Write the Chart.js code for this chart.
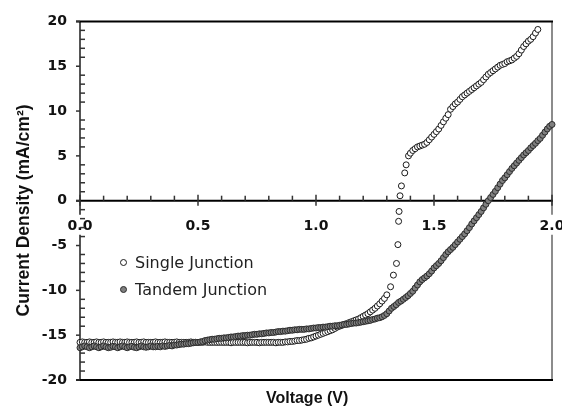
<!DOCTYPE html>
<html lang="en">
<head>
<meta charset="UTF-8">
<title>Current Density vs Voltage</title>
<script src="https://cdn.jsdelivr.net/npm/chart.js"></script>
<style>
  html, body { margin: 0; padding: 0; background: #fff; }
  #jv { display: block; }
</style>
</head>
<body>
<canvas id="jv" width="562" height="414"></canvas>
<script>
// series + axis values
const seriesNames = ['Single Junction', 'Tandem Junction'];
const xTickValues = [0, 0.5, 1.0, 1.5, 2.0];
const yTickValues = [-20, -15, -10, -5, 0, 5, 10, 15, 20];

const tandemV = [
  0.00, 0.01, 0.02, 0.03, 0.04, 0.05, 0.06, 0.07, 0.08, 0.09,
  0.10, 0.11, 0.12, 0.13, 0.14, 0.15, 0.16, 0.17, 0.18, 0.19,
  0.20, 0.21, 0.22, 0.23, 0.24, 0.25, 0.26, 0.27, 0.28, 0.29,
  0.30, 0.31, 0.32, 0.33, 0.34, 0.35, 0.36, 0.37, 0.38, 0.39,
  0.40, 0.41, 0.42, 0.43, 0.44, 0.45, 0.46, 0.47, 0.48, 0.49,
  0.50, 0.51, 0.52, 0.53, 0.54, 0.55, 0.56, 0.57, 0.58, 0.59,
  0.60, 0.61, 0.62, 0.63, 0.64, 0.65, 0.66, 0.67, 0.68, 0.69,
  0.70, 0.71, 0.72, 0.73, 0.74, 0.75, 0.76, 0.77, 0.78, 0.79,
  0.80, 0.81, 0.82, 0.83, 0.84, 0.85, 0.86, 0.87, 0.88, 0.89,
  0.90, 0.91, 0.92, 0.93, 0.94, 0.95, 0.96, 0.97, 0.98, 0.99,
  1.00, 1.01, 1.02, 1.03, 1.04, 1.05, 1.06, 1.07, 1.08, 1.09,
  1.10, 1.11, 1.12, 1.13, 1.14, 1.15, 1.16, 1.17, 1.18, 1.19,
  1.20, 1.21, 1.22, 1.23, 1.24, 1.25, 1.26, 1.27, 1.28, 1.29,
  1.30, 1.31, 1.32, 1.33, 1.34, 1.35, 1.36, 1.37, 1.38, 1.39,
  1.40, 1.41, 1.42, 1.43, 1.44, 1.45, 1.46, 1.47, 1.48, 1.49,
  1.50, 1.51, 1.52, 1.53, 1.54, 1.55, 1.56, 1.57, 1.58, 1.59,
  1.60, 1.61, 1.62, 1.63, 1.64, 1.65, 1.66, 1.67, 1.68, 1.69,
  1.70, 1.71, 1.72, 1.73, 1.74, 1.75, 1.76, 1.77, 1.78, 1.79,
  1.80, 1.81, 1.82, 1.83, 1.84, 1.85, 1.86, 1.87, 1.88, 1.89,
  1.90, 1.91, 1.92, 1.93, 1.94, 1.95, 1.96, 1.97, 1.98, 1.99,
  2.00
];
const tandemJ = [
  -16.4, -16.3, -16.2, -16.3, -16.4, -16.3, -16.2, -16.3, -16.4, -16.3,
  -16.2, -16.3, -16.4, -16.35, -16.25, -16.3, -16.4, -16.3, -16.2, -16.3,
  -16.4, -16.3, -16.25, -16.35, -16.4, -16.3, -16.2, -16.3, -16.35, -16.3,
  -16.2, -16.3, -16.3, -16.25, -16.3, -16.2, -16.25, -16.2, -16.15, -16.2,
  -16.1, -16.1, -16.05, -16.0, -16.0, -15.95, -15.95, -15.9, -15.85, -15.8,
  -15.8, -15.75, -15.7, -15.6, -15.55, -15.5, -15.45, -15.45, -15.4, -15.35,
  -15.35, -15.3, -15.3, -15.25, -15.2, -15.2, -15.15, -15.1, -15.1, -15.05,
  -15.05, -15.0, -15.0, -14.95, -14.9, -14.9, -14.85, -14.85, -14.8, -14.75,
  -14.75, -14.7, -14.7, -14.65, -14.6, -14.6, -14.55, -14.55, -14.5, -14.45,
  -14.45, -14.4, -14.4, -14.35, -14.35, -14.35, -14.3, -14.3, -14.25, -14.2,
  -14.2, -14.15, -14.15, -14.1, -14.1, -14.05, -14.0, -14.0, -13.95, -13.95,
  -13.9, -13.85, -13.8, -13.8, -13.75, -13.7, -13.65, -13.65, -13.6, -13.55,
  -13.5, -13.45, -13.4, -13.35, -13.25, -13.2, -13.1, -13.05, -12.95, -12.8,
  -12.6, -12.3, -12.0, -11.8, -11.6, -11.35, -11.2, -11.0, -10.8, -10.6,
  -10.35, -10.1, -9.75, -9.4, -9.05, -8.8, -8.6, -8.4, -8.15, -7.85,
  -7.5, -7.25, -7.0, -6.7, -6.35, -6.0, -5.7, -5.45, -5.2, -4.9,
  -4.6, -4.3, -4.0, -3.7, -3.35, -3.0, -2.6, -2.25, -1.9, -1.55,
  -1.2, -0.8, -0.4, 0.0, 0.35, 0.7, 1.05, 1.45, 1.85, 2.25,
  2.55, 2.9, 3.25, 3.6, 3.9, 4.2, 4.5, 4.8, 5.1, 5.35,
  5.6, 5.9, 6.15, 6.4, 6.7, 6.95, 7.3, 7.65, 8.0, 8.3,
  8.5
];

const singleV = [
  0.00, 0.01, 0.02, 0.03, 0.04, 0.05, 0.06, 0.07, 0.08, 0.09,
  0.10, 0.11, 0.12, 0.13, 0.14, 0.15, 0.16, 0.17, 0.18, 0.19,
  0.20, 0.21, 0.22, 0.23, 0.24, 0.25, 0.26, 0.27, 0.28, 0.29,
  0.30, 0.31, 0.32, 0.33, 0.34, 0.35, 0.36, 0.37, 0.38, 0.39,
  0.40, 0.41, 0.42, 0.43, 0.44, 0.45, 0.46, 0.47, 0.48, 0.49,
  0.50, 0.51, 0.52, 0.53, 0.54, 0.55, 0.56, 0.57, 0.58, 0.59,
  0.60, 0.61, 0.62, 0.63, 0.64, 0.65, 0.66, 0.67, 0.68, 0.69,
  0.70, 0.71, 0.72, 0.73, 0.74, 0.75, 0.76, 0.77, 0.78, 0.79,
  0.80, 0.81, 0.82, 0.83, 0.84, 0.85, 0.86, 0.87, 0.88, 0.89,
  0.90, 0.91, 0.92, 0.93, 0.94, 0.95, 0.96, 0.97, 0.98, 0.99,
  1.00, 1.01, 1.02, 1.03, 1.04, 1.05, 1.06, 1.07, 1.08, 1.09,
  1.10, 1.11, 1.12, 1.13, 1.14, 1.15, 1.16, 1.17, 1.18, 1.19,
  1.20, 1.21, 1.22, 1.23, 1.24, 1.25, 1.26, 1.27, 1.28, 1.29,
  1.30, 1.316, 1.328, 1.341, 1.347, 1.350, 1.352, 1.356, 1.362, 1.376,
  1.382, 1.392,
  1.40, 1.41, 1.42, 1.43, 1.44, 1.45, 1.46, 1.47, 1.48, 1.49,
  1.50, 1.51, 1.52, 1.53, 1.54, 1.55, 1.56, 1.57, 1.58, 1.59,
  1.60, 1.61, 1.62, 1.63, 1.64, 1.65, 1.66, 1.67, 1.68, 1.69,
  1.70, 1.71, 1.72, 1.73, 1.74, 1.75, 1.76, 1.77, 1.78, 1.79,
  1.80, 1.81, 1.82, 1.83, 1.84, 1.85, 1.86, 1.87, 1.88, 1.89,
  1.90, 1.91, 1.92, 1.93, 1.94
];
const singleJ = [
  -15.8, -15.75, -15.8, -15.8, -15.75, -15.8, -15.8, -15.75, -15.8, -15.8,
  -15.75, -15.8, -15.8, -15.8, -15.75, -15.8, -15.8, -15.75, -15.8, -15.8,
  -15.75, -15.8, -15.8, -15.8, -15.75, -15.8, -15.8, -15.75, -15.8, -15.8,
  -15.8, -15.8, -15.75, -15.8, -15.8, -15.8, -15.75, -15.8, -15.8, -15.8,
  -15.8, -15.75, -15.8, -15.8, -15.8, -15.8, -15.8, -15.75, -15.8, -15.8,
  -15.8, -15.8, -15.8, -15.75, -15.8, -15.8, -15.8, -15.8, -15.8, -15.8,
  -15.8, -15.8, -15.8, -15.8, -15.85, -15.8, -15.8, -15.8, -15.8, -15.8,
  -15.8, -15.85, -15.8, -15.8, -15.8, -15.8, -15.85, -15.8, -15.8, -15.8,
  -15.8, -15.8, -15.8, -15.85, -15.8, -15.8, -15.8, -15.75, -15.75, -15.7,
  -15.7, -15.65, -15.6, -15.6, -15.55, -15.5, -15.45, -15.35, -15.3, -15.2,
  -15.1, -15.0, -14.9, -14.8, -14.7, -14.6, -14.5, -14.4, -14.25, -14.1,
  -14.0, -13.9, -13.8, -13.7, -13.6, -13.5, -13.4, -13.3, -13.2, -13.05,
  -12.9, -12.75, -12.6, -12.4, -12.2, -12.0, -11.75, -11.5, -11.2, -10.9,
  -10.5, -9.6, -8.3, -7.0, -4.9, -2.3, -1.2, 0.55, 1.65, 3.1,
  4.0, 5.0,
  5.3, 5.6, 5.8, 6.0, 6.1, 6.2, 6.3, 6.5, 6.8, 7.1,
  7.4, 7.7, 8.0, 8.4, 8.8, 9.2, 9.6, 10.2, 10.5, 10.8,
  11.0, 11.3, 11.6, 11.8, 12.0, 12.2, 12.4, 12.6, 12.8, 13.0,
  13.2, 13.5, 13.8, 14.1, 14.3, 14.5, 14.7, 14.9, 15.1, 15.2,
  15.3, 15.5, 15.6, 15.7, 15.9, 16.1, 16.4, 16.8, 17.2, 17.5,
  17.8, 18.0, 18.3, 18.7, 19.1
];

const toPoints = (vs, js) => vs.map((v, i) => ({ x: v, y: js[i] }));

// box, axis line through J = 0, major and minor ticks
const framePlugin = {
  id: 'frame',
  beforeDatasetsDraw(chart) {
    const { ctx, chartArea: a, scales: { x, y } } = chart;
    const y0 = y.getPixelForValue(0);
    const line = (x1, y1, x2, y2) => {
      ctx.beginPath(); ctx.moveTo(x1, y1); ctx.lineTo(x2, y2); ctx.stroke();
    };
    // side lines break where the 0.0 / 2.0 labels sit
    const gapTop = y0 + 14, gapBottom = y0 + 34;
    ctx.save();
    ctx.lineWidth = 2;
    ctx.strokeStyle = '#8c8c8c';
    line(a.right, a.top, a.right, gapTop);
    line(a.right, gapBottom, a.right, a.bottom);
    ctx.strokeStyle = '#555';
    line(a.left, a.top, a.left, gapTop);
    line(a.left, gapBottom, a.left, a.bottom);
    ctx.strokeStyle = '#000';
    line(a.left - 4, a.top, a.right + 1, a.top);
    line(a.left - 4, a.bottom, a.right + 1, a.bottom);
    line(a.left - 4, y0, a.right + 1, y0);

    ctx.lineWidth = 1.5;
    ctx.strokeStyle = '#333';
    yTickValues.forEach(v => {
      const py = y.getPixelForValue(v);
      line(a.left - 4, py, a.left, py);
    });
    for (let v = -19; v < 20; v++) {
      if (v % 5 === 0) continue;
      const py = y.getPixelForValue(v);
      line(a.left, py, a.left + 5, py);
    }
    xTickValues.forEach(v => {
      const px = x.getPixelForValue(v);
      line(px, y0 - 6, px, y0 + 5);
    });
    for (let k = 1; k < 20; k++) {
      if (k % 5 === 0) continue;
      const px = x.getPixelForValue(k / 10);
      line(px, y0 - 5, px, y0);
    }
    ctx.restore();
  }
};

// legend sits inside the plot, lower left
const legendPlugin = {
  id: 'innerLegend',
  afterDatasetsDraw(chart) {
    const { ctx } = chart;
    ctx.save();
    ctx.font = '16px "DejaVu Sans"';
    ctx.textBaseline = 'middle';
    chart.data.datasets.forEach((ds, i) => {
      const cy = 262.5 + i * 27;
      ctx.beginPath();
      ctx.arc(123.5, cy, 3, 0, Math.PI * 2);
      ctx.fillStyle = ds.pointBackgroundColor;
      ctx.fill();
      ctx.lineWidth = 1;
      ctx.strokeStyle = ds.pointBorderColor;
      ctx.stroke();
      ctx.fillStyle = '#222';
      ctx.fillText(ds.label, 135, cy + 1);
    });
    ctx.restore();
  }
};

const tickFont = { family: 'DejaVu Sans', weight: 'bold', size: 14 };

new Chart(document.getElementById('jv'), {
  type: 'scatter',
  data: {
    datasets: [
      {
        label: seriesNames[0],
        data: toPoints(singleV, singleJ),
        pointRadius: 3,
        pointBorderWidth: 1,
        pointBackgroundColor: '#ffffff',
        pointBorderColor: '#1a1a1a',
        order: 2,
        clip: false
      },
      {
        label: seriesNames[1],
        data: toPoints(tandemV, tandemJ),
        pointRadius: 3,
        pointBorderWidth: 1,
        pointBackgroundColor: '#808080',
        pointBorderColor: '#2b2b2b',
        order: 1,
        clip: false
      }
    ]
  },
  options: {
    responsive: false,
    animation: false,
    devicePixelRatio: 1,
    layout: { padding: { left: 0, right: 10, top: 16, bottom: 0 } },
    plugins: { legend: { display: false }, tooltip: { enabled: false } },
    scales: {
      x: {
        type: 'linear',
        position: { y: 0 },
        min: 0,
        max: 2,
        afterBuildTicks: s => { s.ticks = xTickValues.map(v => ({ value: v })); },
        afterFit: s => { s.height = 0; s.paddingLeft = 0; s.paddingRight = 0; },
        grid: { display: false, drawTicks: false },
        border: { display: false },
        ticks: {
          padding: 17,
          color: '#111',
          font: tickFont,
          maxRotation: 0,
          autoSkip: false,
          callback: v => Number(v).toFixed(1)
        }
      },
      x2: {
        axis: 'x',
        type: 'linear',
        position: 'bottom',
        min: 0,
        max: 2,
        afterFit: s => { s.height = 34; },
        grid: { display: false, drawTicks: false },
        border: { display: false },
        ticks: { display: false },
        title: {
          display: true,
          text: 'Voltage (V)    ',
          color: '#111',
          font: { family: 'Liberation Sans', weight: 'bold', size: 16 },
          padding: { top: 0, bottom: 6 }
        }
      },
      y: {
        type: 'linear',
        position: 'left',
        min: -20,
        max: 20,
        afterBuildTicks: s => { s.ticks = yTickValues.map(v => ({ value: v })); },
        afterFit: s => { s.width = 80; },
        grid: { display: false, drawTicks: false },
        border: { display: false },
        ticks: { padding: 13, color: '#111', font: tickFont },
        title: {
          display: true,
          text: 'Current Density (mA/cm²)    ',
          color: '#111',
          font: { family: 'Liberation Sans', weight: 'bold', size: 17.5 },
          padding: { top: 14, bottom: 0 }
        }
      }
    }
  },
  plugins: [framePlugin, legendPlugin]
});
</script>
</body>
</html>
